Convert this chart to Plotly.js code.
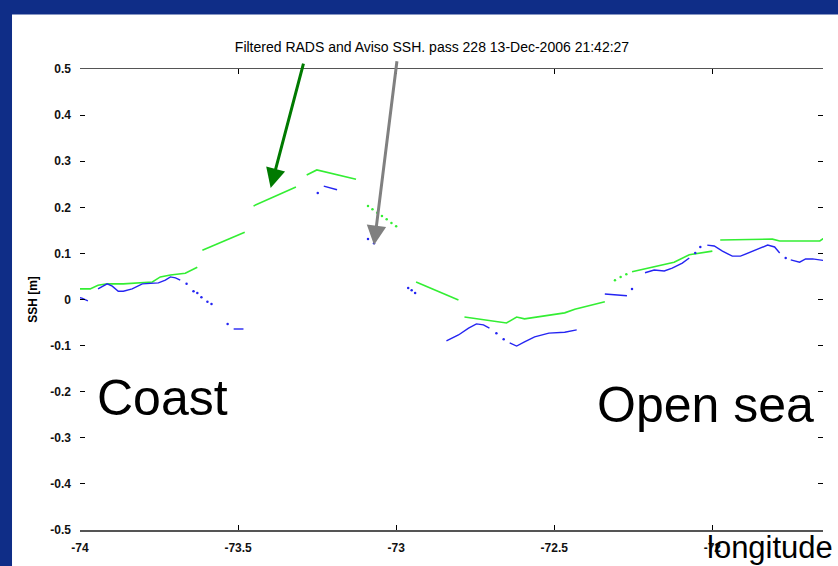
<!DOCTYPE html>
<html>
<head>
<meta charset="utf-8">
<script src="https://cdn.plot.ly/plotly-3.0.1.min.js"></script>
<style>html,body{margin:0;padding:0;background:#0f2d87;}#chart{width:838px;height:566px;}</style>
</head>
<body>
<div id="chart"></div>
<script>
// Filtered RADS (green) - solid segments, null = gap
const greenLon = [-74.01,-73.968,-73.943,-73.914,-73.863,-73.803,-73.771,-73.746,-73.714,-73.667,-73.644,-73.629,null,
  -73.613,-73.479,null,
  -73.451,-73.317,null,
  -73.283,-73.251,-73.127,null,
  -72.937,-72.803,null,
  -72.784,-72.651,-72.619,-72.594,-72.467,-72.435,-72.340,null,
  -72.254,-72.121,-72.073,-72.0,null,
  -71.975,-71.810,-71.787,-71.660,-71.641];
const greenSsh = [0.023,0.023,0.031,0.034,0.034,0.036,0.038,0.049,0.053,0.057,0.064,0.070,null,
  0.107,0.146,null,
  0.203,0.244,null,
  0.270,0.281,0.261,null,
  0.038,-0.001,null,
  -0.038,-0.051,-0.038,-0.042,-0.029,-0.021,-0.005,null,
  0.060,0.081,0.097,0.105,null,
  0.129,0.131,0.127,0.127,0.136];
// Filtered RADS (green) - sparse dotted points
const greenDotLon = [-73.089,-73.075,-73.060,-73.045,-73.030,-73.015,-73.0,-72.308,-72.290,-72.272];
const greenDotSsh = [0.203,0.196,0.188,0.181,0.174,0.166,0.159,0.042,0.049,0.055];

// Aviso (blue) - solid segments
const blueLon = [-74.01,-73.994,-73.975,null,
  -73.943,-73.914,-73.898,-73.879,-73.863,-73.835,-73.803,-73.752,-73.730,-73.714,-73.698,-73.683,null,
  -73.514,-73.483,null,
  -73.229,-73.187,null,
  -72.841,-72.803,-72.771,-72.746,-72.724,-72.705,null,
  -72.641,-72.619,-72.594,-72.562,-72.517,-72.467,-72.429,null,
  -72.340,-72.270,null,
  -72.213,-72.184,-72.152,-72.127,-72.095,-72.073,null,
  -72.016,-71.994,-71.968,-71.937,-71.911,-71.873,-71.825,-71.803,-71.787,null,
  -71.752,-71.724,-71.705,-71.683,-71.641];
const blueSsh = [0.005,0.003,-0.003,null,
  0.023,0.034,0.029,0.018,0.018,0.023,0.034,0.036,0.042,0.049,0.047,0.042,null,
  -0.064,-0.064,null,
  0.246,0.238,null,
  -0.090,-0.077,-0.062,-0.053,-0.055,-0.062,null,
  -0.094,-0.101,-0.092,-0.081,-0.073,-0.071,-0.066,null,
  0.012,0.008,null,
  0.058,0.064,0.062,0.068,0.079,0.090,null,
  0.118,0.116,0.105,0.094,0.094,0.105,0.118,0.114,0.101,null,
  0.086,0.081,0.088,0.088,0.084];
// Aviso (blue) - sparse dotted points
const blueDotLon = [-73.663,-73.641,-73.629,-73.616,-73.597,-73.584,-73.533,-73.248,-73.089,-73.070,-72.962,-72.951,-72.940,
  -72.683,-72.660,-72.254,-72.054,-72.038,-71.768];
const blueDotSsh = [0.034,0.018,0.014,0.005,-0.005,-0.010,-0.053,0.231,0.131,0.122,0.025,0.020,0.014,
  -0.073,-0.086,0.023,0.101,0.114,0.090];

const xTicks = [-74,-73.5,-73,-72.5,-72];
const xTickText = ['-74','-73.5','-73','-72.5','-72'];
const yTicks = [-0.5,-0.4,-0.3,-0.2,-0.1,0,0.1,0.2,0.3,0.4,0.5];
const yTickText = ['-0.5','-0.4','-0.3','-0.2','-0.1','0','0.1','0.2','0.3','0.4','0.5'];

const GREEN = '#33ee33', BLUE = '#2424f2';
const traces = [
  {x: greenLon, y: greenSsh, mode: 'lines', line: {color: GREEN, width: 1.6}, connectgaps: false, hoverinfo: 'skip'},
  {x: greenDotLon, y: greenDotSsh, mode: 'markers', marker: {color: GREEN, size: 2.5}, hoverinfo: 'skip'},
  {x: blueLon, y: blueSsh, mode: 'lines', line: {color: BLUE, width: 1.4}, connectgaps: false, hoverinfo: 'skip'},
  {x: blueDotLon, y: blueDotSsh, mode: 'markers', marker: {color: BLUE, size: 2.5}, hoverinfo: 'skip'}
];

const tickFont = {family: 'Liberation Sans, Arial, sans-serif', size: 12, color: '#111', weight: 'bold'};
const layout = {
  width: 838, height: 566,
  paper_bgcolor: '#0f2d87', plot_bgcolor: '#ffffff',
  margin: {l: 80, r: 15, t: 69, b: 36},
  showlegend: false,
  title: {text: 'Filtered RADS and Aviso SSH. pass 228 13-Dec-2006 21:42:27',
          font: {family: 'Liberation Sans, Arial, sans-serif', size: 14, color: '#000'},
          x: 0.5155, xanchor: 'center', y: 0.917, yanchor: 'middle', xref: 'container', yref: 'container'},
  xaxis: {range: [-74, -71.65], tickvals: xTicks, ticktext: xTickText, ticks: 'inside', ticklen: 5,
          tickcolor: '#000', showgrid: false, zeroline: false, showline: true, linecolor: '#555', linewidth: 1.5,
          mirror: 'ticks', tickfont: tickFont, ticklabelstandoff: 6},
  yaxis: {range: [-0.5, 0.5], tickvals: yTicks, ticktext: yTickText, ticks: 'inside', ticklen: 5,
          tickcolor: '#000', showgrid: false, zeroline: false, showline: false, mirror: 'ticks',
          tickfont: tickFont, ticklabelstandoff: 8,
          title: {text: 'SSH [m]', standoff: 10, font: {family: 'Liberation Sans, Arial, sans-serif', size: 12, color: '#000', weight: 'bold'}}},
  shapes: [
    {type: 'rect', xref: 'paper', yref: 'paper', x0: -0.0915, x1: 1.03, y0: -0.09, y1: 1.118,
     fillcolor: '#ffffff', line: {width: 0}, layer: 'below'}
  ],
  annotations: [
    {x: -73.397, y: 0.242, ax: -73.292, ay: 0.515, xref: 'x', yref: 'y', axref: 'x', ayref: 'y',
     text: '', showarrow: true, arrowhead: 2, arrowsize: 1.3, arrowwidth: 3, arrowcolor: '#007a00'},
    {x: -73.070, y: 0.118, ax: -72.997, ay: 0.520, xref: 'x', yref: 'y', axref: 'x', ayref: 'y',
     text: '', showarrow: true, arrowhead: 2, arrowsize: 1.3, arrowwidth: 3, arrowcolor: '#808080'},
    {x: 0.0202, y: 0.286, xref: 'paper', yref: 'paper', xanchor: 'left', yanchor: 'middle', showarrow: false,
     text: 'Coast', font: {family: 'Liberation Sans, Arial, sans-serif', size: 50, color: '#000'}},
    {x: 0.693, y: 0.271, xref: 'paper', yref: 'paper', xanchor: 'left', yanchor: 'middle', showarrow: false,
     text: 'Open sea', font: {family: 'Liberation Sans, Arial, sans-serif', size: 50, color: '#000'}},
    {x: 0.841, y: -0.039, xref: 'paper', yref: 'paper', xanchor: 'left', yanchor: 'middle', showarrow: false,
     text: 'longitude', font: {family: 'Liberation Sans, Arial, sans-serif', size: 31, color: '#000'}}
  ]
};
Plotly.newPlot('chart', traces, layout, {displayModeBar: false, staticPlot: true});
</script>
</body>
</html>
